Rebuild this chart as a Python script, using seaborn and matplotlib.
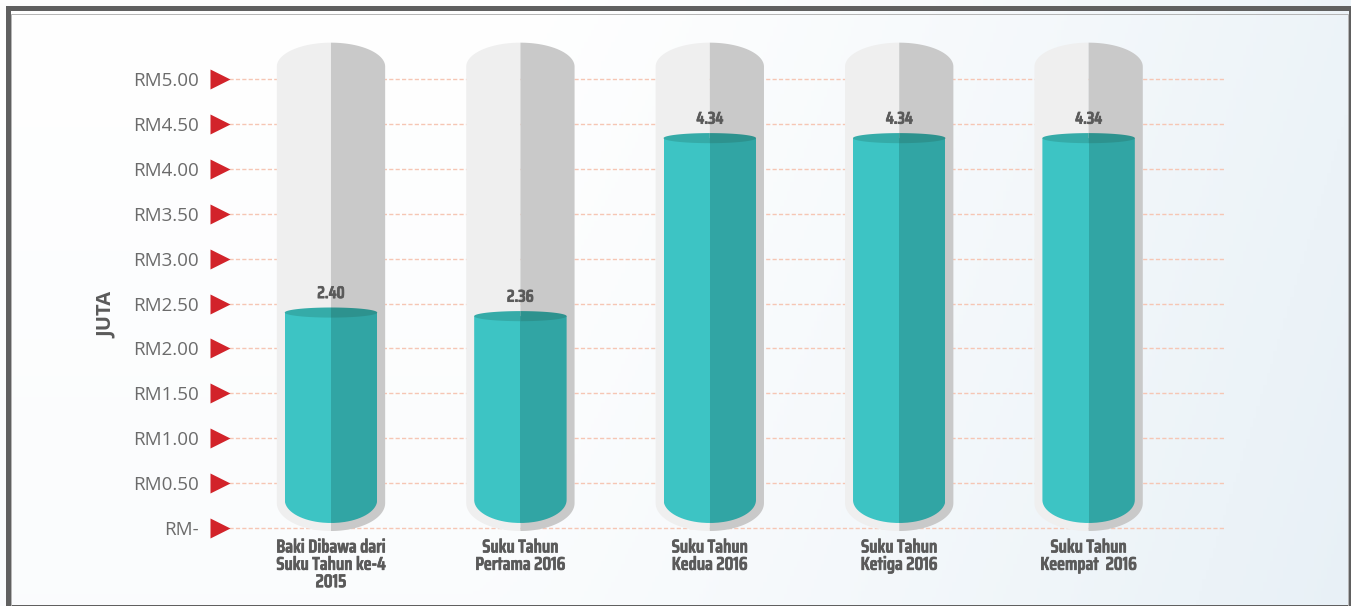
import numpy as np
import pandas as pd
import seaborn as sns
import matplotlib.pyplot as plt
import matplotlib.transforms as mtransforms
import matplotlib.font_manager as fm
import matplotlib.patheffects as pe
from matplotlib.textpath import TextPath
from matplotlib.path import Path
from matplotlib.patches import PathPatch, Polygon, Rectangle

# data
categories = ["Baki Dibawa dari\nSuku Tahun ke-4\n2015",
              "Suku Tahun\nPertama 2016",
              "Suku Tahun\nKedua 2016",
              "Suku Tahun\nKetiga 2016",
              "Suku Tahun\nKeempat  2016"]
values = [2.40, 2.36, 4.34, 4.34, 4.34]
value_labels = ["2.40", "2.36", "4.34", "4.34", "4.34"]
y_ticks = [0, 0.5, 1.0, 1.5, 2.0, 2.5, 3.0, 3.5, 4.0, 4.5, 5.0]
y_tick_labels = ["RM-", "RM0.50", "RM1.00", "RM1.50", "RM2.00", "RM2.50",
                 "RM3.00", "RM3.50", "RM4.00", "RM4.50", "RM5.00"]

TEAL_L, TEAL_R = "#3dc4c4", "#31a5a4"
TOP_L, TOP_R = "#35aba8", "#2d928e"
GRAY_L, GRAY_R = "#efefef", "#c9c9c9"
TXT = "#5a5a5a"

sns.set_style("white")
plt.rcParams['font.family'] = ['Open Sans', 'DejaVu Sans']


def weight_num(w):
    if isinstance(w, str):
        return fm.weight_dict.get(w, 400)
    return w


def ext(s, fp):
    return TextPath((0, 0), s, size=100, prop=fp).get_extents()


# pick the bold face whose shape is closest to the narrow bold used in the original
# ("Baki Dibawa dari" is about 8.4 cap heights wide there)
narrow_fp = fm.FontProperties(family=['DejaVu Sans'], weight='bold')
best = None
for f in fm.fontManager.ttflist:
    nm = f.name.lower()
    fn = f.fname.lower()
    if "mono" in nm or "cjk" in nm or f.style != "normal":
        continue
    if "italic" in fn or "oblique" in fn or "it." in fn:
        continue
    if weight_num(f.weight) < 600:
        continue
    try:
        fp = fm.FontProperties(fname=f.fname)
        ratio = ext("Baki Dibawa dari", fp).width / ext("B", fp).height
    except Exception:
        continue
    score = abs(ratio - 8.4)
    if best is None or score < best:
        best, narrow_fp = score, fp

cap100 = ext("B", narrow_fp).height          # cap height at 100 px
lp100 = ext("lp", narrow_fp).height
thick = [pe.withStroke(linewidth=0.5, foreground=TXT)]


def narrow(cap_px):
    size_px = cap_px * 100 / cap100
    fp = narrow_fp.copy()
    fp.set_size(size_px * 0.72)
    return fp, size_px


W, H = 1351, 606
fig = plt.figure(figsize=(W / 100, H / 100), dpi=100, facecolor="white")

# background gradient
bg = fig.add_axes([0, 0, 1, 1], zorder=-1)
xx, yy = np.meshgrid(np.linspace(0, 1, 400), np.linspace(0, 1, 200))
t = np.clip((xx - 0.35) / 0.65, 0, 1) ** 1.3 * 0.75 + yy * 0.2
c0 = np.array([1.0, 1.0, 1.0])
c1 = np.array([0.905, 0.94, 0.965])
grad = c0[None, None, :] * (1 - t[..., None]) + c1[None, None, :] * t[..., None]
bg.imshow(grad, extent=[0, 1, 0, 1], aspect="auto", origin="upper")
bg.axis("off")

# main axes, y 0..5 maps to pixel 528 .. 79
ylo, yhi = -0.02, 5.02
px_per = 89.9
y0_px = 528.3
left_px, right_px = 229, 1226
bot_px = y0_px - ylo * px_per
top_px = y0_px - yhi * px_per
ax = fig.add_axes([left_px / W, (H - bot_px) / H,
                   (right_px - left_px) / W, (bot_px - top_px) / H])
ax.set_facecolor("none")

df = pd.DataFrame({
    "cat": np.repeat(categories, 2),
    "value": np.repeat(values, 2),
    "side": ["L", "R"] * len(categories),
})
sns.barplot(data=df, x="cat", y="value", hue="side", order=categories,
            palette=[TEAL_L, TEAL_R], width=0.488, dodge=True, gap=0,
            saturation=1, errorbar=None, legend=False, ax=ax, zorder=2)

ax.set_xlim(-0.5385, 4.7254)
ax.set_ylim(ylo, yhi)
ax.set_xlabel("")
for s in ax.spines.values():
    s.set_visible(False)

# dashed grid
ax.set_axisbelow(True)
ax.yaxis.grid(True, color="#f6c6b4", linestyle=(0, (3, 1.6)), linewidth=1.0)
ax.xaxis.grid(False)


def capsule(xc, hw, yb, ryb, yt, ryt, side=0):
    # side -1 left half, +1 right half, 0 whole
    a = np.linspace(0, np.pi / 2, 40)
    if side == 0:
        b = np.linspace(0, np.pi, 80)
        top = np.column_stack([xc + hw * np.cos(b), yt + ryt * np.sin(b)])
        bot = np.column_stack([xc - hw * np.cos(b), yb - ryb * np.sin(b)])
        return np.vstack([top, bot])
    top = np.column_stack([xc + side * hw * np.sin(a), yt + ryt * np.cos(a)])
    bot = np.column_stack([xc + side * hw * np.cos(a), yb - ryb * np.sin(a)])
    return np.vstack([top, bot, [[xc, yb - ryb]]])


# grey shells behind each bar
shell_hw = 0.286
for i in range(len(categories)):
    for side, col in [(-1, GRAY_L), (1, GRAY_R)]:
        ax.add_patch(Polygon(capsule(i, shell_hw, 0.281, 0.311, 5.135, 0.267, side),
                             closed=True, fc=col, ec="none", zorder=1, clip_on=False))

# shape the seaborn bars as cylinders
val_fp, _ = narrow(11.7)
left_bars, right_bars = ax.containers[0], ax.containers[1]
for i, (lb, rb) in enumerate(zip(left_bars, right_bars)):
    xc = lb.get_x() + lb.get_width()
    hw = lb.get_width()
    v = lb.get_height()
    body = PathPatch(Path(capsule(xc, hw, 0.315, 0.256, v, 0.0)), transform=ax.transData)
    lb.set_clip_path(body)
    rb.set_clip_path(body)
    lb.set_edgecolor("none")
    rb.set_edgecolor("none")
    # top ellipse, split in two shades
    b = np.linspace(0, np.pi, 60)
    for side, col in [(-1, TOP_L), (1, TOP_R)]:
        pts = np.column_stack([xc + side * hw * np.sin(b), v + 0.056 * np.cos(b)])
        ax.add_patch(Polygon(pts, closed=True, fc=col, ec="none", zorder=3))
    ax.annotate(value_labels[i], (xc, v), xytext=(0, 14), textcoords="offset points",
                ha="center", va="center", fontproperties=val_fp,
                color=TXT, zorder=4, path_effects=thick)

# y ticks with red arrows
ax.set_yticks(y_ticks)
ax.set_yticklabels(y_tick_labels)
ax.tick_params(axis="y", length=0, pad=21.6, labelsize=13.5, labelcolor="#6b6b6b")
tri = mtransforms.blended_transform_factory(ax.transAxes, ax.transData)
ax.plot([-0.0095] * len(y_ticks), y_ticks, marker=">", ls="none", ms=14,
        color="#d2232a", mec="none", transform=tri, clip_on=False, zorder=5)

cat_fp, cat_px = narrow(12.7)
ax.set_xticks(range(len(categories)))
ax.set_xticklabels(categories, fontproperties=cat_fp, color=TXT,
                   linespacing=16.5 / (lp100 * cat_px / 100))
for lab in ax.get_xticklabels():
    lab.set_path_effects(thick)
ax.tick_params(axis="x", length=0, pad=6)

ax.set_ylabel("JUTA", fontsize=14.5, fontweight="bold", color=TXT)
ax.yaxis.set_label_coords(-0.112, 2.37 / 5)

# dark frame with a thin light inner edge
fig.add_artist(Rectangle((7.5 / W, -0.5 / H), (1350.5 - 7.5) / W, (606.5 - 7.5) / H,
                         transform=fig.transFigure, fill=False, ec="#606060", lw=3.6))
fig.add_artist(Rectangle((10.5 / W, -0.5 / H), (1347.5 - 10.5) / W, (603.5 - 10.5) / H,
                         transform=fig.transFigure, fill=False, ec="#b4b4b4", lw=0.7))

fig.savefig("out.png", dpi=100)
